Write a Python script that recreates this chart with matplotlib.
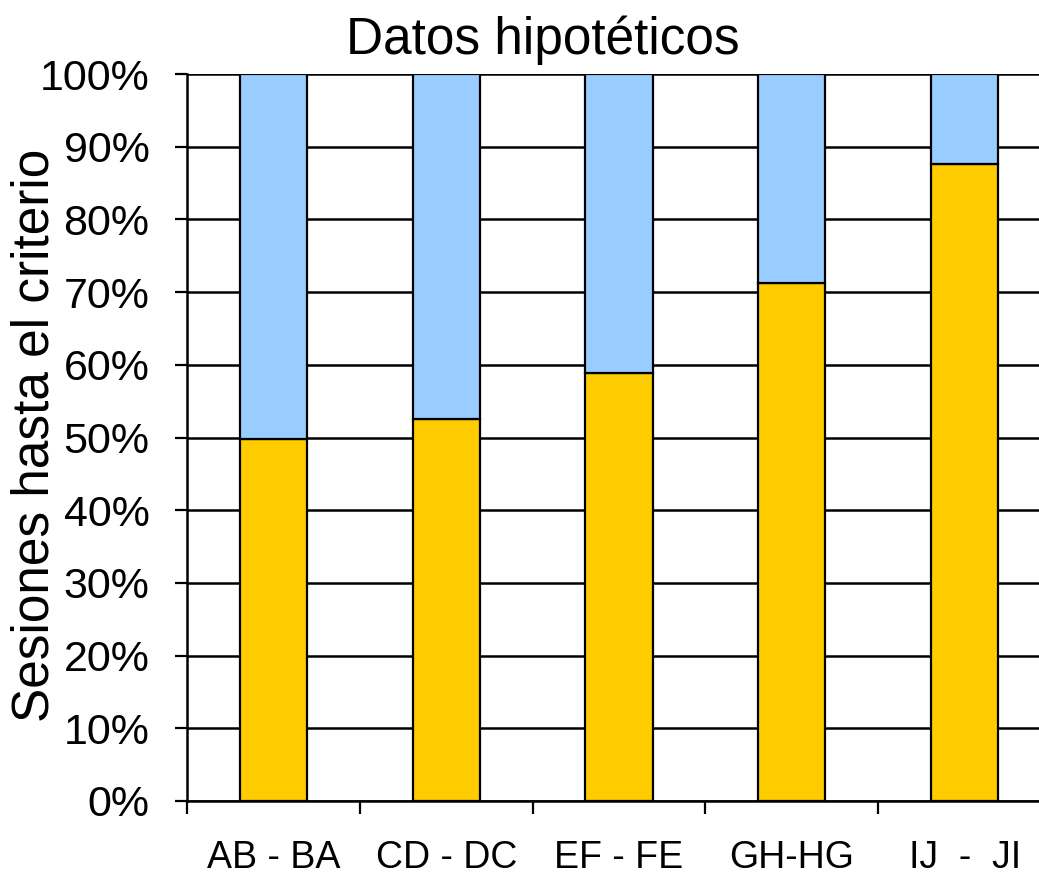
import numpy as np
from matplotlib import pyplot as plt

categories = ['AB - BA', 'CD - DC', 'EF - FE', 'GH-HG', 'IJ  -  JI']
lower_pct = [49.8, 52.6, 58.9, 71.3, 87.6]
upper_pct = [100 - v for v in lower_pct]

plt.rcParams['font.family'] = ['Liberation Sans', 'DejaVu Sans']

fig = plt.figure(figsize=(10.39, 8.76), dpi=100)
ax = fig.add_axes([187 / 1039, 75 / 876, 864 / 1039, 727 / 876])

x = np.arange(len(categories))
ax.bar(x, lower_pct, width=0.39, color='#FFCC00', edgecolor='black', linewidth=1.6, zorder=3)
ax.bar(x, upper_pct, bottom=lower_pct, width=0.39, color='#99CCFF',
       edgecolor='black', linewidth=1.6, zorder=3)

ax.set_xlim(-0.5, len(categories) - 0.5)
ax.set_ylim(0, 100)
ax.set_yticks(np.arange(0, 101, 10))
ax.set_yticklabels([f'{v}%' for v in range(0, 101, 10)], fontsize=31)
ax.yaxis.grid(True, color='black', linewidth=1.8, zorder=0)
ax.set_axisbelow(True)

ax.set_xticks(x)
ax.set_xticklabels(categories, fontsize=27)
ax.tick_params(axis='x', which='major', length=0, pad=28)
ax.set_xticks(np.arange(-0.5, len(categories), 1), minor=True)
ax.tick_params(axis='x', which='minor', length=9, width=1.6, direction='out')
ax.tick_params(axis='y', length=9, width=1.6, pad=18)

for side in ['top', 'right']:
    ax.spines[side].set_visible(False)
ax.spines['left'].set_linewidth(1.8)
ax.spines['bottom'].set_linewidth(1.8)

ax.set_ylabel('Sesiones hasta el criterio', fontsize=37, va='center')
ax.yaxis.set_label_coords(-152 / 864, (801 - 435) / 727)
fig.text(543 / 1039, 1 - 40 / 876, 'Datos hipotéticos', fontsize=37,
         ha='center', va='center')

fig.savefig('out.png', dpi=100)
